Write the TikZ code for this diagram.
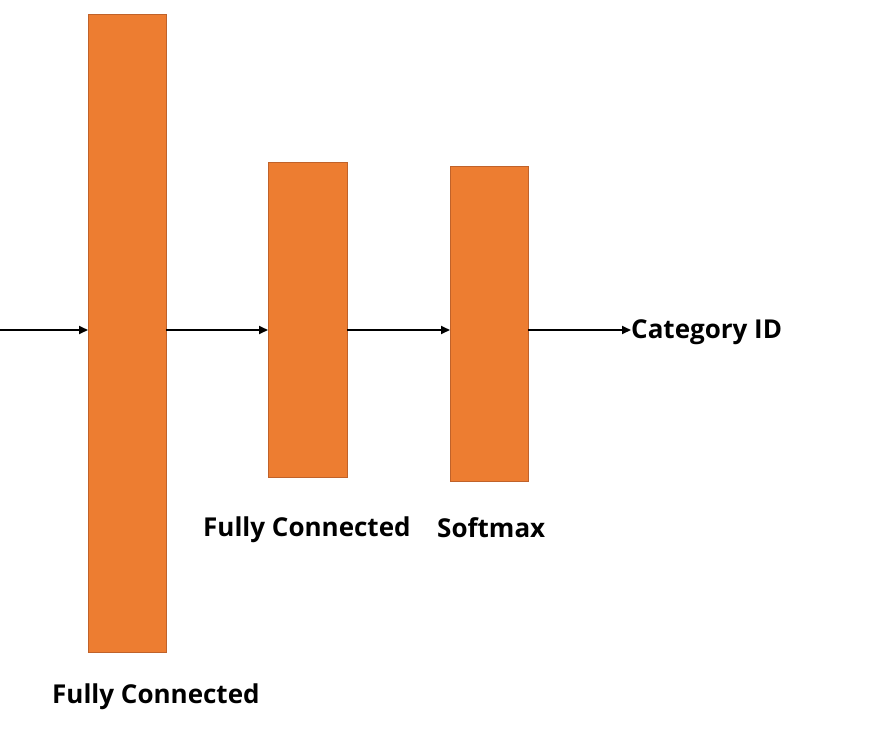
\documentclass[tikz,border=0pt]{standalone}
\usepackage{fontspec}
\setmainfont{Open Sans}
\usetikzlibrary{arrows.meta}
\definecolor{barfill}{HTML}{ED7D31}
\definecolor{barline}{HTML}{C0622A}
\begin{document}
\begin{tikzpicture}[x=1pt,y=-1pt,
  bar/.style={draw=barline,fill=barfill,line width=0.6pt},
  conn/.style={line width=1.8pt,-{Triangle[length=9pt,width=8pt]}},
  lbl/.style={font=\bfseries\fontsize{26}{28}\selectfont,inner sep=0pt,anchor=west}]
\useasboundingbox (0,0) rectangle (870,737);
\path[bar] (88,14) rectangle (166,652);
\path[bar] (268,162) rectangle (347,477);
\path[bar] (450,166) rectangle (528,481);
\coordinate (r1w) at (88,330);
\coordinate (r1e) at (166,330);
\coordinate (r2w) at (268,330);
\coordinate (r2e) at (347,330);
\coordinate (r3w) at (450,330);
\coordinate (r3e) at (528,330);
\coordinate (in) at (0,330);
\node[lbl] (cat) at (631,332) {Category ID};
\draw[conn] (in) -- (r1w);
\draw[conn] (r1e) -- (r2w);
\draw[conn] (r2e) -- (r3w);
\draw[conn] (r3e) -- (cat.west |- r3e);
\node[lbl] (fc2) at (203,530) {Fully Connected};
\node[lbl] (sm) at (437,528) {Softmax};
\node[lbl] (fc1) at (52,697) {Fully Connected};
\end{tikzpicture}
\end{document}
